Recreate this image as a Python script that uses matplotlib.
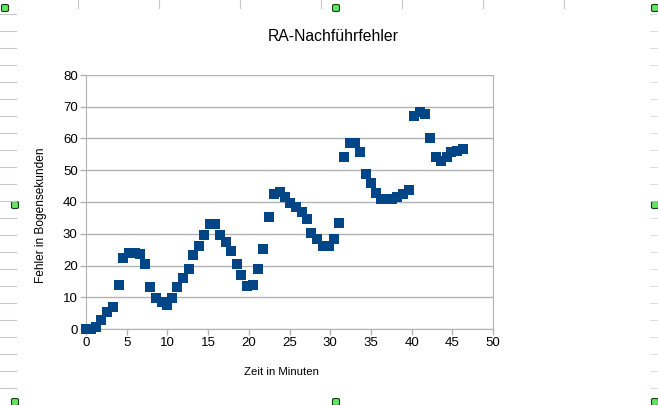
import matplotlib

matplotlib.use("Agg")
import matplotlib.pyplot as plt
from matplotlib.patches import FancyBboxPatch
from matplotlib.lines import Line2D

# Zeit in Minuten / Fehler in Bogensekunden
zeit = [0.0, 0.6, 1.2, 1.9, 2.6, 3.3, 4.0, 4.6, 5.3, 6.0,
        6.6, 7.3, 7.9, 8.6, 9.3, 9.9, 10.6, 11.2, 11.9, 12.6,
        13.2, 13.9, 14.5, 15.2, 15.9, 16.5, 17.2, 17.8, 18.5, 19.1,
        19.8, 20.5, 21.1, 21.8, 22.5, 23.1, 23.8, 24.4, 25.1, 25.8,
        26.5, 27.1, 27.7, 28.4, 29.1, 29.8, 30.5, 31.1, 31.7, 32.4,
        33.0, 33.7, 34.4, 35.0, 35.6, 36.3, 36.9, 37.6, 38.2, 39.0,
        39.7, 40.3, 41.0, 41.6, 42.3, 43.0, 43.6, 44.3, 44.9, 45.6,
        46.3]
fehler = [0.0, 0.0, 0.5, 2.9, 5.5, 7.0, 14.0, 22.5, 24.0, 24.0,
          23.5, 20.5, 13.3, 9.8, 8.5, 7.5, 9.8, 13.3, 16.2, 19.0,
          23.3, 26.0, 29.6, 33.0, 33.0, 29.6, 27.4, 24.6, 20.4, 16.9,
          13.4, 14.0, 18.8, 25.3, 35.2, 42.4, 43.0, 41.7, 39.8, 38.5,
          36.9, 34.6, 30.3, 28.2, 26.2, 26.2, 28.2, 33.3, 54.3, 58.5,
          58.5, 55.8, 48.7, 45.9, 42.9, 40.8, 40.8, 40.8, 41.7, 42.5,
          43.8, 67.1, 68.2, 67.7, 60.1, 54.3, 53.0, 54.3, 55.8, 56.1,
          56.6]
xticks = [0, 5, 10, 15, 20, 25, 30, 35, 40, 45, 50]
yticks = [0, 10, 20, 30, 40, 50, 60, 70, 80]

plt.rcParams["font.family"] = ["Liberation Sans", "DejaVu Sans"]

W, H = 658, 405
fig = plt.figure(figsize=(W / 100, H / 100), dpi=100)
fig.patch.set_facecolor("white")

# spreadsheet cell marks around the chart frame
for y in range(14, H, 17):
    fig.add_artist(Line2D([0, 16 / W], [1 - y / H] * 2, color="#c8c8c8", lw=0.8))
    fig.add_artist(Line2D([650 / W, 1], [1 - y / H] * 2, color="#d8d8d8", lw=0.6))
for x in range(78, 640, 81):
    fig.add_artist(Line2D([x / W] * 2, [1, 1 - 8 / H], color="#c8c8c8", lw=0.8))

# selection handles
for hx, hy in [(15, 205), (336, 8), (655, 205), (15, 402), (336, 402),
               (655, 402), (655, 8), (5, 8)]:
    fig.add_artist(FancyBboxPatch(((hx - 3.5) / W, 1 - (hy + 3.5) / H),
                                  7 / W, 7 / H,
                                  boxstyle="round,pad=0,rounding_size=0.003",
                                  facecolor="#5ee85e", edgecolor="#1a3a1a",
                                  lw=0.8, transform=fig.transFigure))

ax = fig.add_axes([86 / W, 1 - 329 / H, (493 - 86) / W, (329 - 75) / H])
ax.plot(zeit, fehler, linestyle="none", marker="s", markersize=7.3,
        color="#004586", markeredgewidth=0, clip_on=False, zorder=3)

ax.set_xlim(0, 50)
ax.set_ylim(0, 80)
ax.set_xticks(xticks)
ax.set_yticks(yticks)
ax.grid(axis="y", color="#b3b3b3", lw=1.0, zorder=0)
for s in ax.spines.values():
    s.set_color("#b3b3b3")
ax.spines["top"].set_visible(False)
ax.tick_params(direction="out", length=4, width=1, color="#b3b3b3",
               labelsize=9.5, labelcolor="black", pad=2)

ax.set_xlabel("Zeit in Minuten", fontsize=8.2, va="center")
ax.xaxis.set_label_coords((281.5 - 86) / 407, (329 - 372) / 254)
ax.set_ylabel("Fehler in Bogensekunden", fontsize=8.6, va="center", ha="center")
ax.yaxis.set_label_coords((41 - 86) / 407, (329 - 215) / 254)
fig.text(333 / W, 1 - 36.5 / H, "RA-Nachführfehler", ha="center", va="center",
         fontsize=11.3)

fig.savefig("out.png", dpi=100, facecolor="white")
